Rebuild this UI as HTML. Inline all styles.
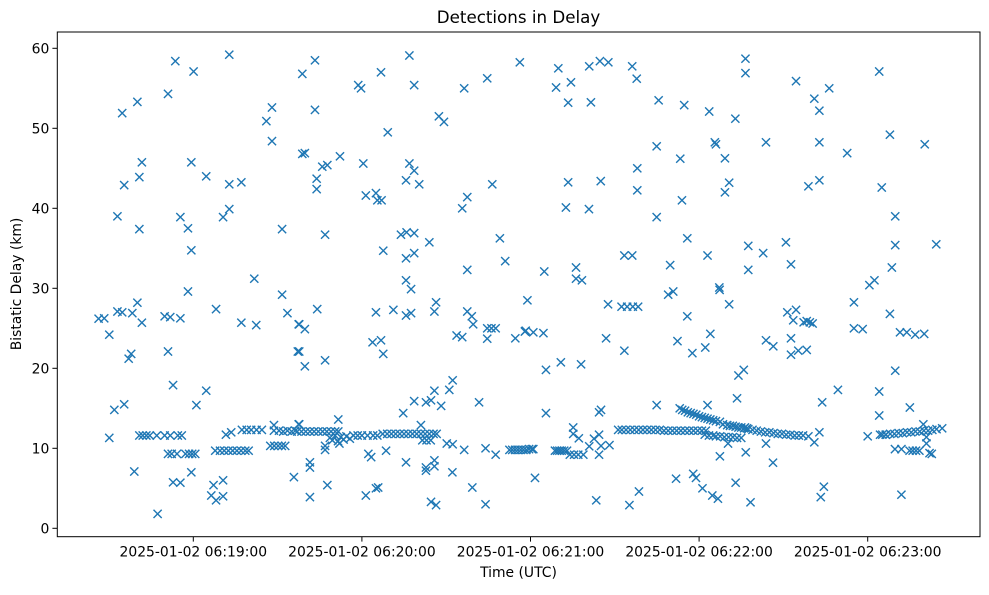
<!DOCTYPE html>
<html><head><meta charset="utf-8"><style>
html,body{margin:0;padding:0;background:#fff;}
svg text{font-family:"DejaVu Sans","Liberation Sans",sans-serif;fill:#000;}
</style></head><body>
<svg id="chart" width="989" height="590" viewBox="0 0 989 590" xmlns="http://www.w3.org/2000/svg">
<rect x="0" y="0" width="989" height="590" fill="#fff"/>
<text x="518.5" y="23" font-size="16.7" text-anchor="middle">Detections in Delay</text>
<g id="marks"></g>
<g id="axes"></g>
<text x="518.5" y="577" font-size="13.9" text-anchor="middle">Time (UTC)</text>
<text x="21" y="284" font-size="13.9" text-anchor="middle" transform="rotate(-90 21 284)">Bistatic Delay (km)</text>
</svg>
<script>
// seconds after 2025-01-02 06:18:00 UTC
const timesSec = [
53.6,60.1,72.8,51.0,40.1,34.7,88.0,86.0,88.0,41.7,59.3,40.8,35.4,64.6,72.8,77.1,33.0,40.8,55.4,58.1,70.6,72.8,91.6,59.3,81.7,58.1,91.6,40.1,33.0,34.7,38.3,26.3,28.3,41.7,30.1,49.8,51.8,55.4,68.1,77.1,82.4,93.5,97.5,37.9,37.0,51.0,97.2,52.8,64.6,61.1,31.9,35.4,30.1,39.0,59.3,52.8,55.4,67.2,70.6,66.4,68.1,70.6,47.3,95.8,97.5,
40.8,42.0,43.3,44.5,47.0,49.8,51.8,54.5,55.9,71.6,73.5,77.3,79.0,80.6,82.5,84.4,88.7,88.7,90.5,92.0,93.5,95.0,96.3,
51.0,52.3,54.2,57.2,58.5,59.6,60.7,67.8,69.5,71.0,72.5,74.0,75.5,77.0,78.5,79.7,87.4,88.8,90.2,91.5,92.7,
98.8,103.3,103.3,118.7,119.7,126.8,136.9,138.6,129.2,147.4,149.2,156.4,164.6,176.2,98.8,99.7,105.9,107.7,112.2,120.5,103.9,103.9,136.9,138.6,135.7,140.4,121.4,125.0,125.5,127.0,166.4,157.5,155.7,106.9,127.6,133.9,135.9,138.6,144.0,135.7,138.6,169.1,171.0,157.5,135.7,137.5,104.1,97.7,99.7,125.0,131.2,135.7,137.5,145.8,146.4,157.5,159.1,159.6,153.7,155.7,164.6,166.1,167.6,164.6,174.6,178.3,178.9,97.7,99.7,106.9,123.8,126.8,127.6,152.3,151.1,145.8,138.6,142.8,144.6,148.2,134.7,161.7,111.6,141.0,97.7,
101.5,101.5,107.7,101.5,121.4,125.0,125.8,122.3,123.3,106.9,106.9,128.6,135.7,142.8,142.8,145.8,145.8,152.2,144.6,146.4,159.3,164.0,150.2,152.3,156.4,164.0,167.6,
97.0,98.5,100.0,101.5,103.0,104.5,106.0,107.5,109.0,110.5,111.6,108.6,109.5,110.5,111.5,112.5,113.5,114.5,115.7,112.0,117.0,118.5,120.0,122.0,124.0,125.5,
127.4,129.0,130.5,132.0,133.5,135.0,136.5,138.0,139.5,141.0,142.5,144.0,145.5,146.6,141.5,143.0,144.5,
172.5,173.5,174.5,175.5,176.5,177.5,178.5,179.5,180.5,181.0,
189.9,189.1,194.4,193.4,201.5,200.9,204.7,207.7,216.2,217.8,225.6,234.7,243.6,252.9,256.5,256.5,224.9,233.3,245.6,246.0,249.2,218.0,218.0,193.4,205.0,192.6,200.8,250.7,249.2,233.9,224.9,235.8,257.5,243.0,213.4,216.2,229.7,257.5,184.9,196.2,196.2,198.3,207.6,212.4,214.4,216.4,218.3,229.0,230.8,247.2,247.3,250.7,235.8,178.0,181.0,184.6,206.9,232.3,237.6,242.2,244.0,213.4,185.5,190.8,198.0,254.0,255.9,253.5,185.5,204.4,205.1,224.9,243.0,181.6,195.2,195.2,197.2,202.6,204.4,200.9,205.1,208.1,204.4,203.4,215.2,218.6,231.8,237.9,238.9,241.2,244.7,246.7,253.0,258.3,247.4,256.6,250.3,
188.7,189.5,190.3,191.1,192.0,193.0,194.0,195.5,197.0,198.8,
211.2,212.5,214.0,215.5,217.0,218.5,220.0,221.5,223.0,224.5,226.0,227.5,229.0,230.5,232.0,233.5,235.0,236.5,238.0,239.5,241.0,242.4,
233.1,234,235,236,237,238,239,240,241,242,243,244,245,246,247.4,248.5,250,251,252,253,254,255,256,257,
242,243.5,245,246,247.5,249,250.5,252,253.5,255,
274.5,281.0,282.8,286.3,304.1,263.8,282.8,292.7,307.9,320.3,278.9,282.8,305.0,309.8,309.8,324.4,262.8,270.9,272.7,308.6,300.6,302.4,295.1,307.9,271.4,274.5,273.5,277.2,278.3,279.4,280.4,295.1,298.2,311.5,313.9,316.9,320.1,263.8,266.4,272.7,272.7,275.3,278.3,309.8,289.4,283.8,304.1,304.1,315.0,319.8,266.3,282.8,281.0,263.8,300.0,304.4,306.4,309.7,312.0,314.9,316.0,317.2,318.4,320.9,320.9,322.0,322.8,283.3,284.4,312.0,
256.3,257.5,259,260.5,262,263.5,265,266.5,268,269.5,271,272.5,274,275.5,277,278.9,
305.2,306.5,308,309.5,311,312.5,314,315.5,317,318.5,320,321.5,323,324.5,326.5
];
const delaysKm = [
58.4,57.1,59.2,54.3,53.3,51.9,52.6,50.9,48.4,45.75,45.75,43.9,42.9,44.0,43.0,43.25,39.0,37.4,38.9,37.5,38.9,39.9,37.4,34.75,31.2,29.6,29.2,28.2,27.1,27.0,26.9,26.2,26.25,25.7,24.2,26.5,26.4,26.25,27.4,25.7,25.4,26.9,25.5,21.8,21.2,22.1,22.1,17.9,17.2,15.4,14.8,15.5,11.3,7.1,7.0,5.75,5.7,5.4,6.0,4.1,3.5,4.0,1.8,6.4,13.0,
11.6,11.6,11.6,11.6,11.6,11.6,11.6,11.6,11.6,11.7,12.0,12.3,12.3,12.3,12.3,12.3,12.9,12.2,12.2,12.1,12.2,12.1,12.2,
9.3,9.3,9.3,9.3,9.3,9.3,9.3,9.7,9.7,9.7,9.7,9.7,9.7,9.7,9.7,9.7,10.3,10.3,10.3,10.3,10.3,
56.8,58.5,52.3,55.4,55.0,57.0,59.1,55.4,49.5,51.5,50.8,55.0,56.25,58.25,46.8,46.9,45.2,45.4,46.5,45.6,43.7,42.4,45.6,44.7,43.5,43.0,41.6,41.9,41.0,41.0,43.0,41.4,40.0,36.7,34.7,36.7,37.0,36.9,35.75,33.75,34.4,36.25,33.4,32.3,31.0,29.9,27.4,25.5,24.9,27.0,27.3,26.6,26.9,27.1,28.25,27.1,26.5,25.5,24.1,23.9,25.0,25.0,25.0,23.7,23.75,24.7,28.5,22.1,20.25,21.0,23.25,23.5,21.8,18.5,17.3,17.2,15.9,15.75,16.0,15.3,14.4,15.75,13.6,12.9,13.0,
8.25,7.6,5.4,3.9,4.1,5.0,5.1,9.3,8.9,10.3,9.8,9.7,8.25,7.2,7.6,8.5,7.75,7.0,3.3,2.9,5.1,3.0,10.6,10.5,9.8,10.0,9.2,
12.1,12.1,12.1,12.1,12.1,12.1,12.1,12.1,12.1,12.1,12.1,11.3,11.0,11.6,10.9,11.4,11.1,11.5,11.2,10.6,11.6,11.6,11.6,11.6,11.6,11.6,
11.8,11.8,11.8,11.8,11.8,11.8,11.8,11.8,11.8,11.8,11.8,11.8,11.8,11.8,11.0,11.0,11.0,
9.8,9.8,9.8,9.8,9.8,9.8,9.8,9.9,9.9,9.9,
57.5,55.1,55.75,53.2,53.25,57.75,58.4,58.25,57.75,56.2,53.5,52.9,52.1,51.2,58.7,56.9,47.75,46.2,48.25,48.0,46.25,45.0,42.25,43.25,43.4,40.1,39.9,43.2,42.0,41.0,38.9,36.25,35.3,34.1,34.1,34.1,32.9,32.3,32.1,32.6,31.2,31.0,28.0,27.7,27.7,27.7,27.7,29.2,29.6,30.1,29.8,28.0,26.5,24.6,24.5,24.4,23.75,23.4,21.9,22.6,24.3,22.2,19.8,20.75,20.5,19.1,19.8,16.25,14.4,14.5,14.8,15.4,15.4,6.3,12.6,11.8,11.25,11.2,11.7,10.25,10.3,10.4,9.2,3.5,2.9,4.6,6.2,6.8,6.3,5.0,4.1,3.7,5.7,3.25,9.0,9.5,10.6,
9.7,9.7,9.7,9.7,9.7,9.7,9.2,9.2,9.2,9.2,
12.3,12.3,12.3,12.3,12.3,12.3,12.3,12.3,12.3,12.3,12.3,12.2,12.2,12.2,12.2,12.2,12.2,12.2,12.2,12.2,12.2,12.2,
15.0,14.8,14.7,14.5,14.4,14.3,14.2,14.0,13.9,13.8,13.7,13.6,13.5,13.4,13.3,13.0,12.9,12.8,12.8,12.7,12.6,12.6,12.5,12.5,
11.7,11.6,11.6,11.5,11.5,11.4,11.4,11.4,11.3,11.3,
55.9,53.7,52.2,55.0,57.1,48.25,48.25,46.9,49.2,48.0,42.75,43.5,42.6,39.0,35.4,35.5,34.4,35.75,33.0,32.6,30.4,31.0,28.25,26.8,27.0,27.3,26.0,25.75,25.9,25.75,25.6,25.0,24.9,24.5,24.5,24.2,24.3,23.5,22.75,23.75,21.7,22.2,22.3,19.7,17.3,15.75,17.1,14.1,15.1,13.0,8.2,12.0,10.75,10.6,11.5,11.7,11.7,9.9,9.9,9.7,9.7,9.7,9.7,11.4,10.6,9.4,9.3,3.9,5.2,4.2,
12.6,12.4,12.3,12.2,12.1,12.0,12.0,11.9,11.8,11.8,11.7,11.7,11.6,11.6,11.6,11.5,
11.7,11.7,11.8,11.8,11.9,11.9,12.0,12.0,12.1,12.1,12.2,12.2,12.3,12.4,12.5
];
const xTickSec = [60,120,180,240,300];
const yTicks = [0,10,20,30,40,50,60];

const NS='http://www.w3.org/2000/svg';
const L=57.3,R=980,T=32,B=536.7;
function xs(t){return 193.3+(t-60)*168.6/60;}
function ys(v){return 528.3-8*v;}
function mk(tag,attrs){const e=document.createElementNS(NS,tag);for(const k in attrs)e.setAttribute(k,attrs[k]);return e;}
const marks=document.getElementById('marks');
const n=Math.min(timesSec.length,delaysKm.length);
const s=4.1;
for(let i=0;i<n;i++){
  const cx=xs(timesSec[i]),cy=ys(delaysKm[i]);
  const p=mk('path',{d:`M${cx-s},${cy-s}L${cx+s},${cy+s}M${cx-s},${cy+s}L${cx+s},${cy-s}`,stroke:'#1f77b4','stroke-width':1.4,fill:'none'});
  
  
  marks.appendChild(p);
}
const ax=document.getElementById('axes');
const frame=mk('rect',{x:L,y:T,width:R-L,height:B-T,fill:'none',stroke:'#000','stroke-width':1});


ax.appendChild(frame);
function pad(n){return String(n).padStart(2,'0');}
xTickSec.forEach(t=>{
  const x=xs(t);
  const tk=mk('line',{x1:x,x2:x,y1:B,y2:B+4.9,stroke:'#000','stroke-width':1});
  
  
  ax.appendChild(tk);
  const m=18+Math.floor(t/60),sec=t%60;
  const lb=mk('text',{x:x,y:B+20,'font-size':13.9,'text-anchor':'middle'});
  lb.textContent=`2025-01-02 06:${pad(m)}:${pad(sec)}`;
  
  
  ax.appendChild(lb);
});
yTicks.forEach(v=>{
  const y=ys(v);
  const tk=mk('line',{x1:L-4.9,x2:L,y1:y,y2:y,stroke:'#000','stroke-width':1});
  
  
  ax.appendChild(tk);
  const lb=mk('text',{x:L-8,y:y+5,'font-size':13.9,'text-anchor':'end'});
  lb.textContent=String(v);
  
  
  ax.appendChild(lb);
});
</script>
</body></html>
